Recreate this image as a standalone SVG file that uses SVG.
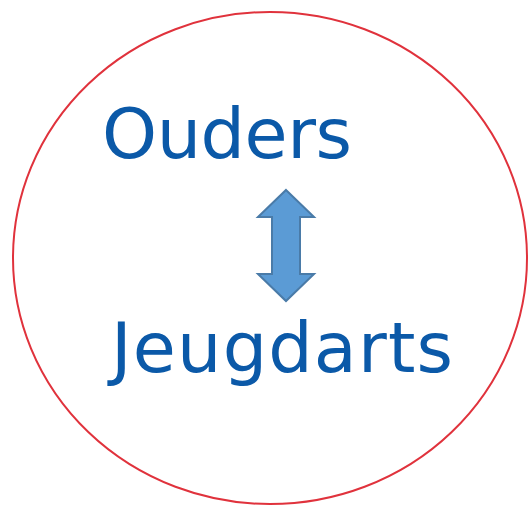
<svg xmlns="http://www.w3.org/2000/svg" width="528" height="505" viewBox="0 0 528 505">
  <style>
    .label { font-family: "DejaVu Sans", Verdana, sans-serif; font-size: 70px; fill: #0B59A8; }
    .ring { fill: #FFFFFF; stroke: #E0323C; stroke-width: 2; }
    .dbl-arrow { fill: #5B9BD5; stroke: #4A7BA8; stroke-width: 2; stroke-linejoin: miter; }
  </style>
  <rect width="528" height="505" fill="#FFFFFF"/>
  <ellipse class="ring" cx="270" cy="258" rx="257" ry="246"/>
  <g id="node-ouders">
    <text class="label" x="102" y="158" textLength="250" lengthAdjust="spacing">Ouders</text>
  </g>
  <g id="node-jeugdarts">
    <text class="label" x="111" y="372" textLength="342" lengthAdjust="spacing">Jeugdarts</text>
  </g>
  <g id="connectors">
    <path class="dbl-arrow" d="M286,190 L314,217 L300,217 L300,274 L314,274 L286,301 L258,274 L272,274 L272,217 L258,217 Z"/>
  </g>
</svg>
